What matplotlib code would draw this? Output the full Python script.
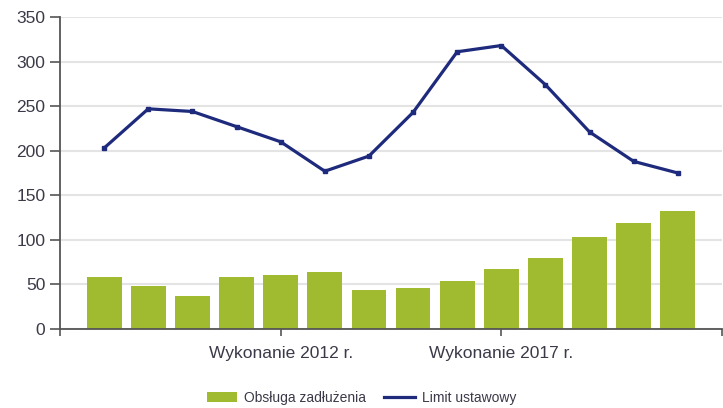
import matplotlib.pyplot as plt
from matplotlib.patches import Patch
from matplotlib.lines import Line2D

plt.rcParams['font.family'] = ['Liberation Sans', 'DejaVu Sans']

# values
obsluga = [58, 48, 37, 58, 61, 64, 44, 46, 54, 67, 80, 103, 119, 132]
limit = [203, 247, 244, 227, 210, 177, 194, 243, 311, 318, 274, 221, 188, 175]
xtick_labels = ['', 'Wykonanie 2012 r.', 'Wykonanie 2017 r.', '']
yticks = [0, 50, 100, 150, 200, 250, 300, 350]

bar_color = '#a0bb2f'
line_color = '#1e2a7c'
text_color = '#3a3a48'
axis_color = '#555555'

fig = plt.figure(figsize=(7.23, 4.08), dpi=100)
ax = fig.add_axes([60 / 723, 1 - 329 / 408, 662 / 723, 312 / 408])

x = list(range(len(obsluga)))
ax.bar(x, obsluga, width=0.79, color=bar_color, zorder=2)
ax.plot(x, limit, color=line_color, linewidth=2.3, marker='s', markersize=2.5, zorder=3)

ax.set_xlim(-1, 14)
ax.set_ylim(0, 350)
ax.set_yticks(yticks)
ax.set_xticks([-1, 4, 9, 14])
ax.set_xticklabels(xtick_labels)

ax.grid(axis='y', color='#e4e4e4', linewidth=1.5, zorder=0)
ax.set_axisbelow(True)
for side in ['top', 'right']:
    ax.spines[side].set_visible(False)
for side in ['left', 'bottom']:
    ax.spines[side].set_color(axis_color)
    ax.spines[side].set_linewidth(1.3)

ax.tick_params(axis='y', length=7.5, width=1.2, color=axis_color, pad=3,
               labelsize=12.5, labelcolor=text_color)
ax.tick_params(axis='x', length=5, width=1.2, color=axis_color, pad=7,
               labelsize=12.5, labelcolor=text_color)

handles = [Patch(facecolor=bar_color, edgecolor='none'),
           Line2D([0], [0], color=line_color, linewidth=2.3)]
fig.legend(handles, ['Obsługa zadłużenia', 'Limit ustawowy'], loc='center',
           bbox_to_anchor=(0.5, 1 - 398 / 408), ncol=2, frameon=False,
           fontsize=10, labelcolor=text_color, handlelength=2.2,
           handleheight=0.8, handletextpad=0.5, columnspacing=1.3)

fig.savefig('out.png', dpi=100)
